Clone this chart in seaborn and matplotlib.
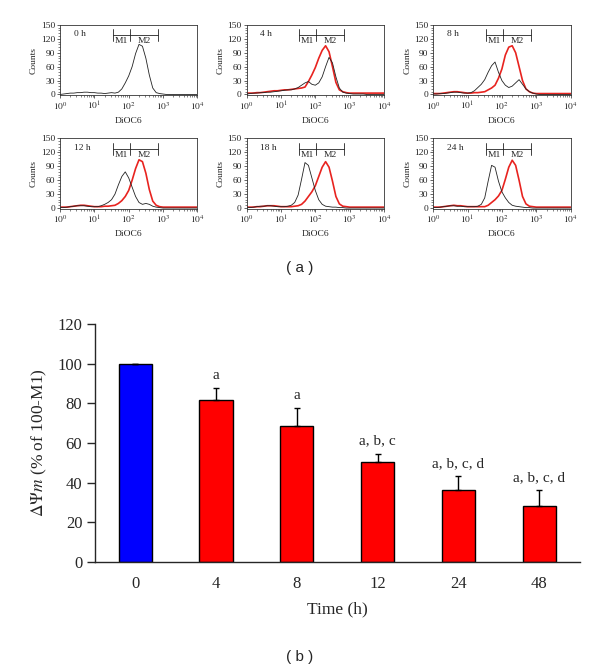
import numpy as np
import matplotlib
matplotlib.use("Agg")
import matplotlib.pyplot as plt
from matplotlib.ticker import MultipleLocator, LogLocator, NullFormatter
import seaborn as sns

# ---- panel (a): flow cytometry histograms (counts on a log10 DiOC6 grid, 0..4 step 0.1)
log_grid = np.round(np.arange(0, 4.01, 0.1), 1)

panel_labels = ["0 h", "4 h", "8 h", "12 h", "18 h", "24 h"]

black_0h = [0, 1, 2, 3, 3, 4, 4, 5, 5, 4,
            4, 3, 3, 2, 3, 4, 3, 5, 12, 25,
            40, 60, 88, 108, 104, 78, 42, 14, 4, 2,
            1, 0, 0, 0, 0, 0, 0, 0, 0, 0, 0]
black_4h = [1, 2, 3, 3, 4, 4, 5, 5, 6, 7,
            8, 9, 10, 10, 12, 15, 20, 25, 28, 22,
            20, 25, 38, 60, 80, 68, 38, 14, 5, 3,
            2, 1, 1, 1, 1, 0, 0, 0, 0, 0, 0]
black_8h = [1, 1, 2, 2, 3, 4, 5, 5, 4, 3,
            3, 4, 8, 15, 22, 32, 48, 62, 70, 48,
            30, 20, 15, 18, 25, 32, 22, 12, 6, 3,
            1, 0, 0, 0, 0, 0, 0, 0, 0, 0, 0]
black_12h = [1, 1, 2, 3, 4, 5, 5, 5, 4, 3,
             3, 3, 5, 8, 12, 18, 30, 50, 68, 78,
             65, 45, 25, 12, 8, 10, 8, 4, 2, 1,
             0, 0, 0, 0, 0, 0, 0, 0, 0, 0, 0]
black_18h = [1, 1, 2, 3, 4, 4, 5, 5, 4, 3,
             3, 3, 4, 6, 12, 28, 62, 98, 92, 65,
             38, 18, 8, 4, 3, 2, 2, 1, 1, 0,
             0, 0, 0, 0, 0, 0, 0, 0, 0, 0, 0]
black_24h = [1, 1, 2, 3, 4, 5, 5, 4, 4, 3,
             3, 3, 3, 4, 8, 22, 58, 92, 88, 58,
             35, 22, 12, 6, 4, 3, 2, 1, 1, 0,
             0, 0, 0, 0, 0, 0, 0, 0, 0, 0, 0]

red_4h = [3, 3, 3, 4, 4, 5, 6, 7, 8, 8,
          9, 10, 10, 11, 12, 13, 14, 16, 28, 42,
          58, 78, 95, 105, 92, 60, 26, 10, 6, 4,
          3, 3, 3, 3, 3, 3, 3, 3, 3, 3, 3]
red_8h = [2, 2, 2, 3, 4, 5, 6, 6, 5, 4,
          3, 3, 4, 4, 5, 6, 10, 14, 20, 35,
          55, 85, 102, 105, 90, 60, 30, 12, 6, 3,
          2, 2, 2, 2, 2, 2, 2, 2, 2, 2, 2]
red_12h = [2, 2, 2, 3, 4, 5, 6, 6, 5, 4,
           3, 3, 3, 4, 4, 5, 6, 10, 16, 25,
           38, 60, 85, 104, 100, 75, 40, 15, 6, 3,
           2, 2, 2, 2, 2, 2, 2, 2, 2, 2, 2]
red_18h = [2, 2, 2, 3, 3, 4, 5, 5, 5, 4,
           3, 3, 3, 3, 4, 5, 8, 15, 25, 35,
           48, 68, 88, 100, 88, 58, 25, 9, 4, 3,
           2, 2, 2, 2, 2, 2, 2, 2, 2, 2, 2]
red_24h = [2, 2, 2, 3, 4, 5, 6, 5, 5, 4,
           3, 3, 3, 3, 3, 3, 6, 12, 18, 26,
           38, 62, 88, 103, 92, 60, 25, 9, 4, 3,
           2, 2, 2, 2, 2, 2, 2, 2, 2, 2, 2]

black_curves = [black_0h, black_4h, black_8h, black_12h, black_18h, black_24h]
red_curves = [None, red_4h, red_8h, red_12h, red_18h, red_24h]

# gates (log10 DiOC6)
gate_m1 = (1.53, 2.03)
gate_m2 = (2.03, 2.85)

# ---- panel (b): membrane potential bars
times = ["0", "4", "8", "12", "24", "48"]
dpsi = [100, 81.5, 68.5, 50.5, 36.3, 28.4]
dpsi_err = [0, 6.3, 9.2, 4.2, 7.0, 8.0]
sig_labels = ["", "a", "a", "a, b, c", "a, b, c, d", "a, b, c, d"]
bar_colors = ["#0000ff", "#ff0000", "#ff0000", "#ff0000", "#ff0000", "#ff0000"]

sns.set_style("ticks")
plt.rcParams["font.family"] = ["Liberation Serif", "DejaVu Serif"]
plt.rcParams["mathtext.fontset"] = "stix"

fig = plt.figure(figsize=(6.0, 6.72), dpi=100)

col_left = [0.100, 0.411, 0.722]
row_bottom = [0.858, 0.689]
pw, ph = 0.229, 0.105
small = 6.8

for i, lab in enumerate(panel_labels):
    r, c = divmod(i, 3)
    ax = fig.add_axes([col_left[c], row_bottom[r], pw, ph])
    xs = 10 ** log_grid
    if red_curves[i] is not None:
        sns.lineplot(x=xs, y=red_curves[i], color="#e8231f", lw=1.2, ax=ax)
    sns.lineplot(x=xs, y=black_curves[i], color="#222222", lw=0.6, ax=ax)
    ax.set_xscale("log")
    ax.set_xlim(1, 1e4)
    ax.set_ylim(-2, 150)
    ax.set_xticks([1, 10, 100, 1000, 10000])
    ax.set_xticklabels([r"$10^{%d}$" % k for k in range(5)])
    ax.set_yticks([0, 30, 60, 90, 120, 150])
    ax.yaxis.set_minor_locator(MultipleLocator(6))
    ax.xaxis.set_minor_locator(LogLocator(base=10, subs=np.arange(2, 10), numticks=20))
    ax.xaxis.set_minor_formatter(NullFormatter())
    ax.tick_params(axis="both", labelsize=small, length=2, width=0.5, pad=1.5)
    ax.tick_params(which="minor", length=1.2, width=0.4)
    for sp in ax.spines.values():
        sp.set_linewidth(0.6)
        sp.set_color("#333333")
    ax.set_ylabel("Counts", fontsize=small, labelpad=2)
    ax.set_xlabel("DiOC6", fontsize=small, labelpad=3)
    ax.text(10 ** 0.4, 130, lab, fontsize=small, va="center")
    # gate markers
    ax.plot([10 ** gate_m1[0], 10 ** gate_m2[1]], [128, 128], color="#222222", lw=0.6)
    for g in (gate_m1[0], gate_m1[1], gate_m2[1]):
        ax.plot([10 ** g, 10 ** g], [115, 141], color="#222222", lw=0.6)
    ax.text(10 ** (sum(gate_m1) / 2), 115, "M1", fontsize=small, ha="center", va="center")
    ax.text(10 ** (sum(gate_m2) / 2), 115, "M2", fontsize=small, ha="center", va="center")

fig.text(0.5, 0.601, "( a )", fontsize=11, ha="center", va="center",
         family=["Liberation Sans", "DejaVu Sans"])

# bar chart
ax = fig.add_axes([0.158, 0.1637, 0.808, 0.354])
sns.barplot(x=times, y=dpsi, hue=times, palette=bar_colors, legend=False,
            width=0.41, edgecolor="black", linewidth=1.0, saturation=1, ax=ax)
xpos = np.arange(len(times))
ax.errorbar(xpos, dpsi, yerr=[np.zeros(len(dpsi)), dpsi_err], fmt="none",
            ecolor="black", elinewidth=1.0, capsize=2.5, capthick=1.0)
for x, v, e, s in zip(xpos, dpsi, dpsi_err, sig_labels):
    if s:
        ax.text(x, v + e + 3, s, ha="center", va="bottom", fontsize=11)
ax.set_xlim(-0.5, 5.5)
ax.set_ylim(0, 120)
ax.set_yticks(np.arange(0, 121, 20))
sns.despine(ax=ax)
ax.spines["left"].set_linewidth(1.0)
ax.spines["bottom"].set_linewidth(1.0)
ax.tick_params(axis="y", labelsize=12, length=6, width=1.0, pad=3)
ax.tick_params(axis="x", labelsize=12, length=0, pad=10)
ax.set_ylabel(r"$\Delta\Psi m$ (% of 100-M1)", fontsize=12.5, labelpad=6)
ax.set_xlabel("Time (h)", fontsize=12.5, labelpad=7)

fig.text(0.5, 0.022, "( b )", fontsize=11, ha="center", va="center",
         family=["Liberation Sans", "DejaVu Sans"])

fig.savefig("out.png", dpi=100)
